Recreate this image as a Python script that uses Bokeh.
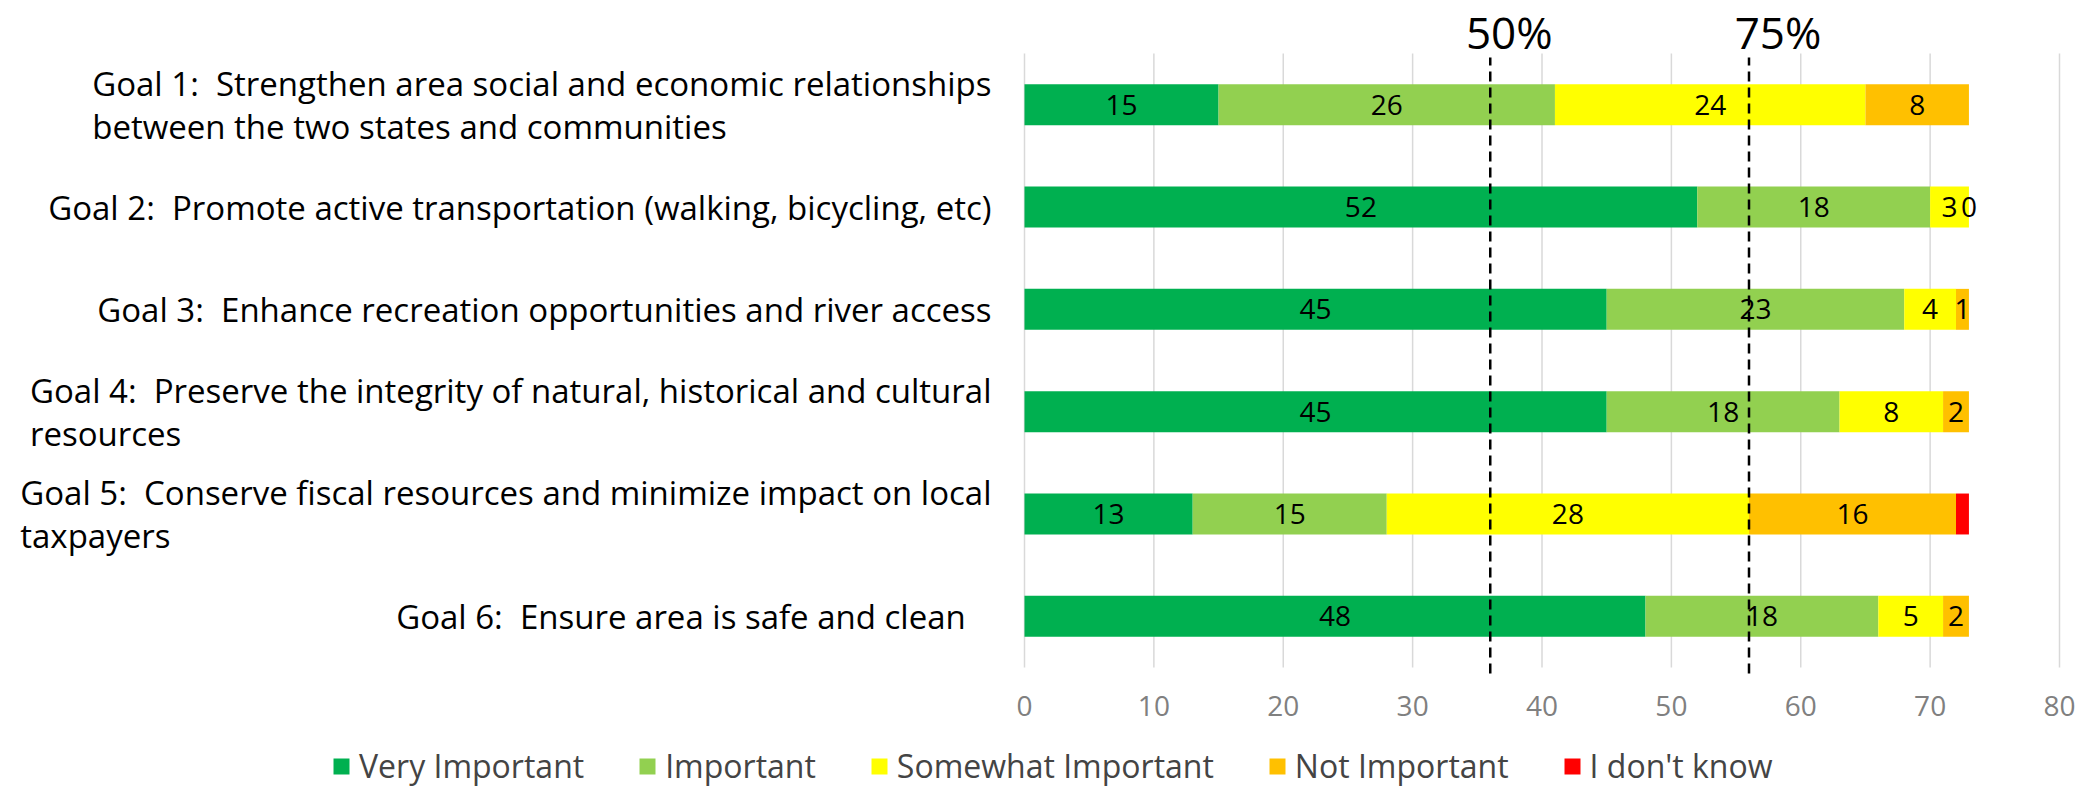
import numpy as np
from bokeh.plotting import figure
from bokeh.models import ColumnDataSource, Range1d, Legend
from bokeh.embed import file_html
from bokeh.resources import INLINE
from bokeh.core.properties import value

# ---------------- data ----------------
goal_ids = ["Goal 1", "Goal 2", "Goal 3", "Goal 4", "Goal 5", "Goal 6"]
goal_labels = [
    "Goal 1:\u00a0 Strengthen area social and economic relationships\nbetween the two states and communities",
    "Goal 2:\u00a0 Promote active transportation (walking, bicycling, etc)",
    "Goal 3:\u00a0 Enhance recreation opportunities and river access",
    "Goal 4:\u00a0 Preserve the integrity of natural, historical and cultural\nresources",
    "Goal 5:\u00a0 Conserve fiscal resources and minimize impact on local\ntaxpayers",
    "Goal 6:\u00a0 Ensure area is safe and clean \u00a0 ",
]
series_names = ["Very Important", "Important", "Somewhat Important", "Not Important", "I don't know"]
very_important = [15, 52, 45, 45, 13, 48]
important = [26, 18, 23, 18, 15, 18]
somewhat_important = [24, 3, 4, 8, 28, 5]
not_important = [8, 0, 1, 2, 16, 2]
dont_know = [0, 0, 0, 0, 1, 0]
series_colors = ["#00B050", "#92D050", "#FFFF00", "#FFC000", "#FF0000"]
labelled_series = [True, True, True, True, False]
x_ticks = [0, 10, 20, 30, 40, 50, 60, 70, 80]
marker_values = [36, 56]
marker_labels = ["50%", "75%"]

# ---------------- style / layout (pixels) ----------------
FONT = "Open Sans"
W, H = 2094, 788
X0_PX, XMAX_PX = 1024, 2059          # screen position of x=0 and x=80
TOP_PX, BOT_PX = 53, 667             # plot band top / bottom
marker_label_dx = [19, 29]           # px shift of the 50% / 75% captions
MARKER_LABEL_CY = 31                 # px, vertical centre of the captions
TICK_LABEL_CY = 705                  # px, vertical centre of the x tick labels
x_max = x_ticks[-1]
ppx = (XMAX_PX - X0_PX) / x_max
n = len(goal_ids)
ppy = (BOT_PX - TOP_PX) / n
x_start, x_end = -X0_PX / ppx, x_max + (W - XMAX_PX) / ppx
y_lo, y_hi = -0.5, n - 0.5
y_start, y_end = y_lo - (H - BOT_PX) / ppy, y_hi + TOP_PX / ppy

keys = ["vi", "im", "sw", "ni", "dk"]
ypos = [n - 1 - i for i in range(n)]
source = ColumnDataSource(dict(goal=goal_ids, label=goal_labels, y=ypos,
                               vi=very_important, im=important, sw=somewhat_important,
                               ni=not_important, dk=dont_know))

p = figure(width=W, height=H, output_backend="svg", toolbar_location=None,
           x_range=Range1d(x_start, x_end), y_range=Range1d(y_start, y_end),
           x_axis_location=None, y_axis_location=None,
           min_border_left=0, min_border_right=0, min_border_top=0, min_border_bottom=0)
p.outline_line_color = None
p.grid.visible = False
p.background_fill_color = "white"
p.border_fill_color = "white"

# vertical grid lines
p.segment(x0=x_ticks, x1=x_ticks, y0=y_lo, y1=y_hi, line_color="#D9D9D9", line_width=1.5)

renderers = p.hbar_stack(keys, y="y", height=0.4, color=series_colors,
                         line_color=None, source=source)

# reference lines
p.segment(x0=marker_values, x1=marker_values, y0=y_lo - 6 / ppy, y1=y_hi - 4 / ppy,
          line_color="black", line_width=2.5, line_dash="10 6")
p.text(x=marker_values, y=y_hi + (TOP_PX - MARKER_LABEL_CY) / ppy, text=marker_labels,
       x_offset=marker_label_dx, text_align="center", text_baseline="middle",
       text_font=value(FONT), text_font_size="44px", text_color="black")

# value labels
vals = np.array([very_important, important, somewhat_important, not_important, dont_know], dtype=float)
starts = np.vstack([np.zeros(n), np.cumsum(vals, axis=0)[:-1]])
lx, ly, lt = [], [], []
for s in range(len(series_names)):
    if not labelled_series[s]:
        continue
    for g in range(n):
        lx.append(starts[s, g] + vals[s, g] / 2)
        ly.append(ypos[g])
        lt.append(str(int(vals[s, g])))
p.text(x=lx, y=ly, text=lt, text_align="center", text_baseline="middle",
       text_font=value(FONT), text_font_size="28px", text_color="black")

# category labels
p.text(x=0, y="y", text="label", source=source, x_offset=-33,
       anchor="center_right", text_align="left", text_baseline="middle",
       text_font=value(FONT), text_font_size="33px", text_line_height=0.96,
       text_color="black")

# x tick labels
p.text(x=x_ticks, y=y_lo - (TICK_LABEL_CY - BOT_PX) / ppy, text=[str(t) for t in x_ticks],
       text_align="center", text_baseline="middle", text_font=value(FONT),
       text_font_size="28px", text_color="#808080")

legend = Legend(items=[(nm, [r]) for nm, r in zip(series_names, renderers)],
                orientation="horizontal", location=(331, 1),
                glyph_width=20, glyph_height=20, label_standoff=8, spacing=53,
                padding=0, margin=0, border_line_color=None,
                background_fill_alpha=0, label_text_font=FONT,
                label_text_font_size="32px", label_text_baseline="middle")
p.add_layout(legend)

open("out.html", "w").write(file_html(p, INLINE))
